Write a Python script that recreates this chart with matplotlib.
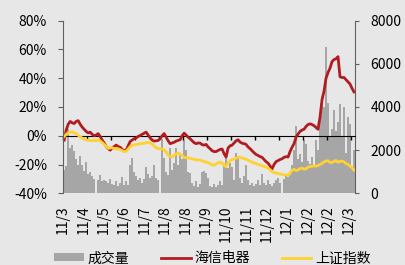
import numpy as np
import matplotlib.pyplot as plt

plt.rcParams['font.family'] = ['Noto Sans CJK SC', 'DejaVu Sans']
plt.rcParams['font.size'] = 10

# x轴标签 (年/月)
xlabels = ['11/3', '11/4', '11/5', '11/6', '11/7', '11/8', '11/8', '11/9',
           '11/10', '11/11', '11/12', '12/1', '12/2', '12/2', '12/3']

# 海信电器 累计涨跌幅 (%)
hisense = [-3, 4, 8, 10, 9, 8.5, 10, 10.5, 8, 6,
           4.5, 3, 2, 2.5, 1, 0, 0.5, 1.5, -0.5, -3,
           -5, -7.5, -9, -10, -8.5, -7.5, -6.5, -7.5, -8, -9.5,
           -10.5, -10, -7, -4, -3, -2, -1.5, -0.5, 0.2, 1,
           1.8, 2.5, 0.5, -1.5, -3, -3.7, -3.5, -3.3, -2, 0,
           1.5, -1, -3.5, -5.5, -5, -4.5, -3.7, -3.2, -2.8, 0,
           1.8, 0.5, -1, -2.1, -3.5, -4.8, -5.5, -5, -5.1, -6.2,
           -6.5, -6, -7.8, -9, -10.4, -11, -11, -10.2, -9.5, -9.2,
           -12.5, -14.8, -8.5, -7, -6.5, -5, -3.5, -2.8, -4.4, -5.2,
           -5.5, -6, -7.8, -9, -10.4, -11.8, -13, -13.7, -14.5, -15,
           -16.5, -18, -19, -21, -23, -20, -18, -17.3, -16.5, -16,
           -15, -14.5, -14.8, -11, -8, -5.5, -1, 1.2, 3, 4,
           4.5, 6.5, 7.8, 8.3, 7.8, 7, 5.8, 4.5, 13, 25,
           31, 40, 44, 47, 51.5, 53, 53.5, 55, 41, 40.5,
           40.5, 39, 37.5, 36, 33, 30.5]

# 上证指数 累计涨跌幅 (%)
sse = [-0.5, 1, 2, 2.5, 2.6, 2, 1.5, 0.3, -0.8, -1.5,
       -2.5, -2.9, -3.1, -3.3, -3.5, -3.2, -3.4, -2.8, -3.6, -4.6,
       -6, -7.5, -8.8, -8.5, -8.3, -8.8, -9.2, -9, -9.6, -10.3,
       -11, -10.8, -9.2, -7.5, -6.6, -6.3, -6, -5.8, -5.5, -5.4,
       -5.2, -5, -4.4, -5, -5.7, -7.2, -8.3, -9, -9, -9.2,
       -9.8, -11.2, -13.4, -14.3, -14.7, -13.6, -12.6, -12, -12.8, -13.8,
       -15, -15.3, -15.3, -15.7, -16.1, -16.4, -16.7, -17, -16.8, -17.4,
       -18, -18.3, -18.8, -19.4, -20.1, -20.5, -19.6, -18.8, -18.3, -19,
       -20.5, -21.6, -18.6, -17.4, -16.6, -16.2, -15.6, -14.9, -15, -15.4,
       -15.8, -16.4, -17, -17.7, -18.4, -19, -19.4, -19.9, -20.4, -20.8,
       -21.4, -21.8, -22.6, -23.5, -25, -25.5, -26, -26.2, -26.6, -26.8,
       -27.4, -27.2, -27.4, -25.8, -24, -23.4, -24.2, -23.8, -22.8, -22.5,
       -23.2, -23, -21.8, -21.4, -21.2, -21, -21.1, -20.7, -20, -19.2,
       -18.2, -17.5, -17.4, -18.5, -18.6, -17.8, -17.2, -18.4, -17.8, -17.6,
       -18.2, -19.3, -20, -21, -22.2, -24]

# 成交量
volume = [1100, 1250, 3000, 2100, 2250, 1950, 1600, 1300, 1750, 1300,
          1050, 1450, 900, 1000, 800, 650, 0, 600, 830, 550,
          620, 550, 480, 650, 450, 400, 560, 350, 460, 750,
          400, 560, 380, 1300, 1620, 1000, 800, 600, 720, 500,
          650, 1200, 900, 700, 820, 1290, 700, 600, 0, 2500,
          1620, 1000, 850, 2080, 1100, 1390, 2080, 1300, 1760, 1600,
          2450, 2000, 1000, 950, 500, 350, 550, 300, 450, 1000,
          1050, 950, 700, 350, 300, 450, 300, 400, 550, 400,
          1290, 1620, 1160, 1400, 1200, 600, 1850, 1700, 700, 500,
          800, 1290, 600, 400, 500, 350, 450, 600, 400, 910,
          500, 400, 600, 450, 350, 500, 600, 700, 500, 0,
          650, 900, 750, 850, 1300, 1990, 3140, 1600, 1800, 1450,
          2450, 2300, 1500, 1350, 1700, 1300, 2450, 2000, 3380, 4400,
          3990, 6770, 4200, 2600, 3000, 3840, 2900, 3300, 4160, 2600,
          3990, 1850, 3530, 3220, 1220, 2000]

x = np.arange(len(volume))
bg = '#e7e7e7'
axis_grey = '#606060'

fig = plt.figure(figsize=(4.06, 2.65), dpi=100, facecolor=bg)
ax = fig.add_axes([63 / 406, 1 - 193.3 / 265, 292 / 406, 172.6 / 265])
ax2 = ax.twinx()
ax.set_zorder(ax2.get_zorder() + 1)
ax.patch.set_visible(False)

bars = ax2.bar(x, volume, width=0.7, color='#a6a6a6', linewidth=0, label='成交量')
l1, = ax.plot(x, hisense, color='#b01c20', lw=2, label='海信电器')
l2, = ax.plot(x, sse, color='#ffd232', lw=2, label='上证指数')

ax.set_xlim(-0.5, len(x) - 0.5)
ax.set_ylim(-40, 80)
ax2.set_ylim(0, 8000)

yt = list(range(-40, 81, 20))
ax.set_yticks(yt)
ax.set_yticklabels([f'{v}%' for v in yt])
ax2.set_yticks(range(0, 8001, 2000))

for s in ['top', 'bottom', 'right']:
    ax.spines[s].set_visible(False)
for s in ['top', 'bottom', 'left']:
    ax2.spines[s].set_visible(False)
ax.spines['left'].set_color(axis_grey)
ax2.spines['right'].set_color(axis_grey)
ax.tick_params(axis='y', length=3.6, pad=8, color=axis_grey)
ax2.tick_params(axis='y', length=3.0, pad=8, color=axis_grey)

# 标签在底部
label_pos = np.arange(len(xlabels)) * 10.2 - 0.6
ax.set_xticks(label_pos)
ax.set_xticklabels(xlabels, rotation=90)
ax.tick_params(axis='x', length=0, pad=8.5)

# 0%处的横轴和刻度
sec = ax.secondary_xaxis(40 / 120)
sec.set_xticks(np.arange(-0.5, len(x), 12))
sec.tick_params(axis='x', labelbottom=False, labeltop=False, length=3, width=1, color='black')
for s in sec.spines.values():
    s.set_color('black')

fig.legend(handles=[bars, l1, l2], loc='center', bbox_to_anchor=(0.524, 0.025),
           ncol=3, frameon=False, handlelength=2.1, handleheight=0.5,
           handletextpad=0.3, columnspacing=2.3, fontsize=10)

fig.savefig('out.png', dpi=100, facecolor=bg)
